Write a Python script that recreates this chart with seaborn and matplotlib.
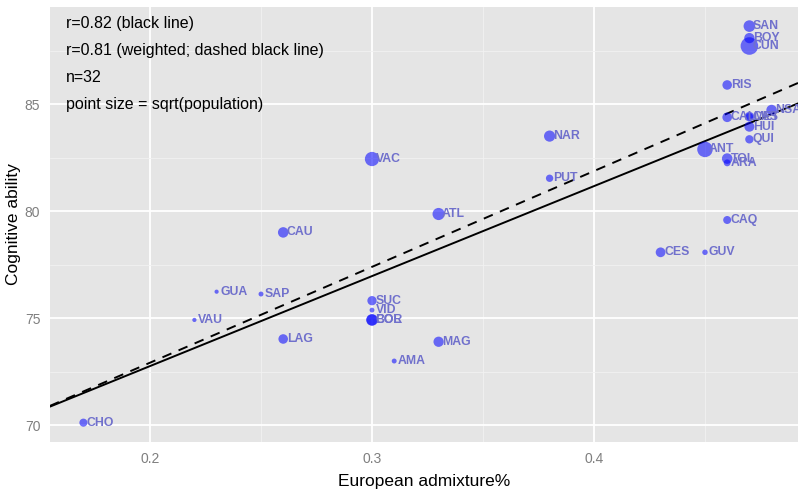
import numpy as np
import pandas as pd
import seaborn as sns
import matplotlib
matplotlib.use("Agg")
import matplotlib.pyplot as plt

# Department codes, European admixture, cognitive ability score and population (thousands)
dept = ["CHO", "VAU", "GUA", "SAP", "CAU", "LAG", "SUC", "VID", "BOL", "COR",
        "AMA", "MAG", "ATL", "VAC", "PUT", "NAR", "CES", "GUV", "CAQ", "ANT",
        "TOL", "ARA", "QUI", "HUI", "CAL", "CAS", "MET", "NSA", "RIS", "SAN",
        "BOY", "CUN"]
admixture = [0.17, 0.22, 0.23, 0.25, 0.26, 0.26, 0.30, 0.30, 0.30, 0.30,
             0.31, 0.33, 0.33, 0.30, 0.38, 0.38, 0.43, 0.45, 0.46, 0.45,
             0.46, 0.46, 0.47, 0.47, 0.46, 0.47, 0.47, 0.48, 0.46, 0.47,
             0.47, 0.47]
cognitive = [70.11, 74.91, 76.23, 76.12, 79.0, 74.02, 75.81, 75.37, 74.91, 74.91,
             72.99, 73.89, 79.86, 82.43, 81.53, 83.50, 78.07, 78.07, 79.58, 82.88,
             82.45, 82.25, 83.35, 83.94, 84.38, 84.41, 84.41, 84.72, 85.89, 88.64,
             88.08, 87.71]
population = [500, 44, 42, 77, 1380, 957, 851, 71, 2098, 1710,
              77, 1260, 2460, 4613, 345, 1766, 1029, 112, 478, 6457,
              1409, 262, 566, 1155, 988, 357, 961, 1355, 951, 2061,
              1277, 10558]

annotations = ["r=0.82 (black line)",
               "r=0.81 (weighted; dashed black line)",
               "n=32",
               "point size = sqrt(population)"]

df = pd.DataFrame({"dept": dept, "admixture": admixture,
                   "cognitive": cognitive, "population": population})
df["sqrt_pop"] = np.sqrt(df["population"])

sns.set_theme(style="darkgrid")
plt.rcParams["font.family"] = ["Liberation Sans", "DejaVu Sans"]

fig = plt.figure(figsize=(7.98, 4.91), dpi=100)
ax = fig.add_axes([50 / 798, 49 / 491, 748 / 798, 435 / 491])
ax.set_facecolor("#E5E5E5")

xlim = (0.15495, 0.4919)
ylim = (69.206, 89.533)
ax.set_xlim(*xlim)
ax.set_ylim(*ylim)

# grid: major and minor white lines
ax.set_xticks([0.2, 0.3, 0.4])
ax.set_yticks([70, 75, 80, 85])
ax.set_xticks([0.25, 0.35, 0.45], minor=True)
ax.set_yticks([72.5, 77.5, 82.5, 87.5], minor=True)
ax.grid(which="major", color="white", linewidth=1.3)
ax.grid(which="minor", color="#F2F2F2", linewidth=0.6)
ax.set_axisbelow(True)
for s in ax.spines.values():
    s.set_visible(False)

# regression lines: ordinary (solid) and weighted by sqrt(population) (dashed)
sns.regplot(data=df, x="admixture", y="cognitive", ax=ax, scatter=False,
            ci=None, truncate=False,
            line_kws={"color": "black", "linewidth": 1.4, "zorder": 2})
wts = df["sqrt_pop"].to_numpy(dtype=float)
coef = np.polyfit(df["admixture"], df["cognitive"], 1, w=np.sqrt(wts))
xs = np.array(xlim)
ax.plot(xs, np.polyval(coef, xs), color="black", linestyle=(0, (5, 4)),
        linewidth=1.4, zorder=2)

# points sized by sqrt(population)
sns.scatterplot(data=df, x="admixture", y="cognitive", size="sqrt_pop",
                sizes=(9, 160), color="blue", alpha=0.55, linewidth=0,
                legend=False, ax=ax, zorder=3)

for name, xv, yv in zip(dept, admixture, cognitive):
    ax.annotate(name, (xv, yv), xytext=(2.5, 0), textcoords="offset points",
                ha="left", va="center", fontsize=8.8, fontweight="bold",
                color="#7070cc", zorder=4,
                family=["Liberation Sans Narrow", "Liberation Sans", "DejaVu Sans"])

ax.set_xlim(*xlim)
ax.set_ylim(*ylim)

for i, txt in enumerate(annotations):
    ax.text(0.1622, 88.74 - i * 1.248, txt, ha="left", va="center",
            fontsize=11.5, color="black", zorder=5)

ax.tick_params(axis="both", which="major", length=4, width=0.9,
               color="#7F7F7F", labelcolor="#7F7F7F", labelsize=10, pad=3)
ax.tick_params(axis="both", which="minor", length=0)
ax.set_xticklabels(["0.2", "0.3", "0.4"])
ax.set_yticklabels(["70", "75", "80", "85"])
ax.set_xlabel("European admixture%", fontsize=12.5, color="black", labelpad=6)
ax.set_ylabel("Cognitive ability", fontsize=12.5, color="black", labelpad=3)

fig.savefig("out.png", dpi=100, facecolor="white")
